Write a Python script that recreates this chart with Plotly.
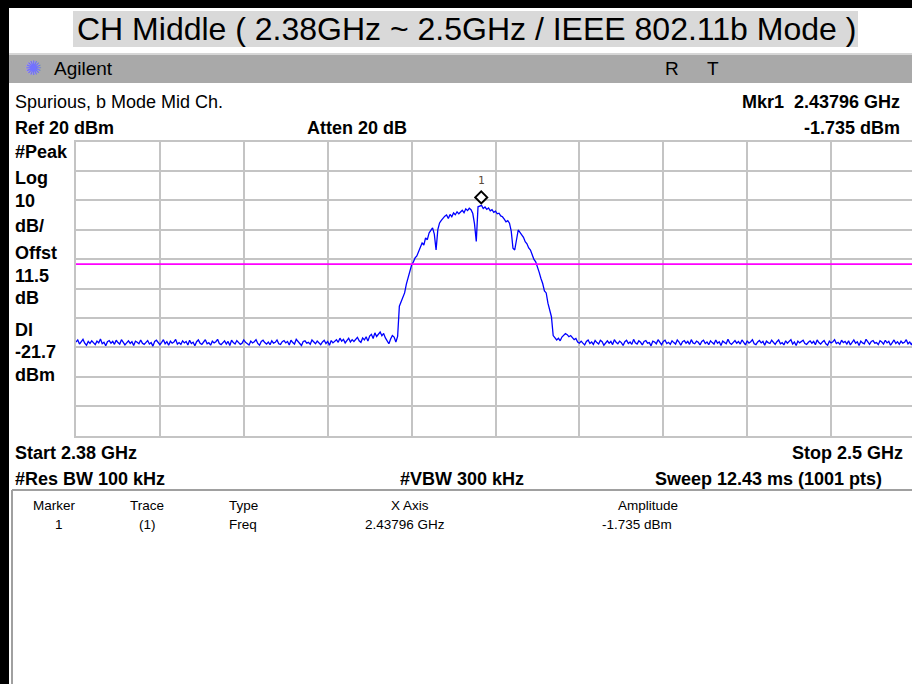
import numpy as np
import plotly.graph_objects as go

# ---------------- data ----------------
START_GHZ = 2.38
STOP_GHZ = 2.5
DISPLAY_LINE_DBM = -21.7
REF_LEVEL_DBM = 20
DB_PER_DIV = 10
MARKER_FREQ_GHZ = 2.43796
MARKER_AMP_DBM = -1.735

# trace amplitude (dBm), read every 0.25 MHz from 2.380 GHz to 2.500 GHz
noise_low = [
    -48.2, -47.5, -48.9, -48.1, -47.3, -48.6, -49.3, -48.0, -48.7, -47.8,
    -48.4, -49.1, -47.9, -48.5, -47.2, -48.8, -48.3, -49.5, -48.1, -47.7,
    -48.6, -48.0, -49.0, -47.6, -48.4, -48.9, -47.4, -48.2, -49.2, -48.5,
    -47.8, -48.7, -48.1, -49.4, -47.9, -48.3, -48.8, -47.5, -48.6, -49.0,
    -48.2, -47.7, -48.9, -48.4, -49.6, -48.0, -47.6, -48.5, -49.1, -48.3,
    -47.4, -48.8, -48.1, -49.3, -47.9, -48.6, -48.2, -47.3, -48.9, -48.4,
    -49.0, -47.8, -48.5, -48.0, -49.2, -47.6, -48.7, -48.3, -49.5, -48.1,
    -47.5, -48.6, -49.0, -48.2, -47.4, -48.8, -48.4, -49.3, -47.9, -48.5,
    -48.1, -47.3, -48.7, -49.1, -48.3, -47.8, -48.9, -48.0, -49.4, -47.6,
    -48.4, -48.9, -47.7, -48.2, -49.0, -48.6, -47.5, -48.3, -48.8, -49.2,
    -47.9, -48.5, -48.1, -47.4, -48.7, -49.3, -48.0, -47.6, -48.4, -48.9,
    -48.2, -49.1, -47.8, -48.6, -48.3, -47.5, -48.8, -49.0, -48.1, -47.7,
    -48.5, -48.0, -49.2, -47.6, -48.4, -48.9, -47.3, -48.2, -48.7, -49.4,
    -48.0, -47.8, -48.6, -48.3, -49.0, -47.5, -48.1, -48.8, -47.9, -48.4,
    -49.1, -48.2, -47.6, -48.7, -48.0, -49.3, -47.7, -48.5, -48.1, -47.4,
    -48.3, -46.9,
]
pre_signal = [
    -47.9, -47.3, -48.5, -47.6, -46.9, -48.2, -47.4, -48.0, -47.1, -46.6,
    -47.8, -48.3, -46.8, -47.5, -46.4, -47.9, -46.2, -45.6, -47.0, -45.1,
    -46.3, -45.4, -44.8, -46.1, -45.3, -46.8, -48.1, -48.8, -47.2, -46.0,
    -46.5, -48.2, -46.3,
]
signal = [
    -36.0, -34.5, -33.0, -31.5, -28.5, -26.4, -24.8, -22.0, -21.0, -19.6,
    -18.9, -17.6, -16.0, -14.5, -15.2, -12.8, -13.4, -11.1, -10.2, -9.4,
    -11.5, -16.9, -10.0, -7.7, -6.8, -6.0, -5.4, -5.0, -6.2, -4.8,
    -5.6, -4.3, -4.9, -3.9, -4.6, -4.0, -3.4, -4.2, -2.9, -3.5,
    -2.7, -3.2, -4.5, -8.0, -14.0, -2.2, -1.9, -1.735, -2.8, -2.3,
    -3.1, -2.6, -3.6, -3.2, -4.1, -3.7, -4.6, -4.4, -5.3, -5.6,
    -6.4, -7.3, -6.9, -7.8, -10.5, -16.3, -16.9, -13.0, -10.1, -10.9,
    -11.8, -12.6, -14.1, -14.8, -16.2, -16.9, -18.5, -20.1, -20.9, -23.2,
    -24.5, -26.6, -28.3, -30.8, -31.5, -35.0, -37.5, -39.6, -46.0, -46.8,
    -47.5, -46.9, -47.8, -46.5, -45.8, -45.3, -45.7, -46.4, -46.0, -46.9,
    -47.4, -47.0, -48.2, -48.6,
]
noise_high = [
    -47.9, -48.6, -49.2, -48.0, -47.5, -48.7, -48.2, -49.0, -47.7, -48.4,
    -48.9, -47.6, -48.1, -49.3, -48.5, -47.8, -48.6, -48.0, -49.1, -47.4,
    -48.3, -48.8, -47.9, -48.4, -49.4, -48.1, -47.6, -48.7, -48.2, -49.0,
    -47.3, -48.5, -48.9, -47.8, -48.3, -49.2, -48.0, -47.7, -48.6, -48.4,
    -49.5, -47.9, -48.2, -48.8, -47.4, -48.5, -49.1, -48.0, -47.6, -48.7,
    -48.3, -49.0, -47.8, -48.4, -48.9, -47.5, -48.2, -49.3, -48.1, -47.7,
    -48.6, -48.0, -49.0, -47.4, -48.5, -48.8, -47.9, -48.3, -49.2, -48.0,
    -47.6, -48.7, -48.2, -49.1, -47.8, -48.4, -48.9, -47.5, -48.6, -48.1,
    -49.4, -47.9, -48.3, -48.8, -47.3, -48.5, -49.0, -48.2, -47.7, -48.6,
    -48.0, -48.9, -47.5, -48.3, -49.2, -47.8, -48.6, -48.1, -47.4, -48.8,
    -49.1, -48.2, -47.7, -48.5, -48.0, -49.3, -47.9, -48.4, -48.7, -47.6,
    -48.3, -49.0, -48.1, -47.5, -48.8, -48.4, -49.2, -47.8, -48.6, -48.0,
    -47.4, -48.9, -48.2, -49.4, -47.9, -48.5, -48.1, -47.6, -48.7, -49.0,
    -48.3, -47.8, -48.6, -48.0, -49.1, -47.5, -48.4, -48.9, -48.2, -47.7,
    -48.8, -49.3, -47.9, -48.5, -48.1, -47.4, -48.7, -48.3, -49.0, -47.6,
    -48.4, -48.0, -48.9, -47.8, -49.2, -48.2, -47.5, -48.6, -48.1, -49.4,
    -47.9, -48.5, -48.8, -47.3, -48.3, -49.0, -48.0, -47.7, -48.6, -48.4,
    -49.1, -47.8, -48.2, -48.9, -47.6, -48.5, -48.0, -49.3, -48.4, -47.5,
    -48.7, -48.1, -49.0, -47.9, -48.6, -48.3, -47.4, -48.8, -48.2, -49.2,
    -47.8, -48.5,
]
amps = noise_low + pre_signal + signal + noise_high
freqs = np.linspace(START_GHZ, STOP_GHZ, len(amps))

left_labels = ["#Peak", "Log", "10", "dB/", "Offst", "11.5", "dB", "Dl", "-21.7", "dBm"]
table_headers = ["Marker", "Trace", "Type", "X Axis", "Amplitude"]
table_row = ["1", "(1)", "Freq", "2.43796 GHz", "-1.735 dBm"]

# ---------------- layout helpers ----------------
W, H = 912, 684
def X(px):
    return px / W
def Y(py):
    return 1 - py / H

PLOT_L, PLOT_T, PLOT_B = 76, 141.5, 435.5
DIV_PX = 83.9
x_end = START_GHZ + (STOP_GHZ - START_GHZ) * (W - PLOT_L) / (10 * DIV_PX)

FONT = "Liberation Sans, Arial, sans-serif"

fig = go.Figure()
fig.add_trace(go.Scatter(x=freqs, y=amps, mode="lines",
                         line=dict(color="#0000ff", width=1.3),
                         hoverinfo="skip", showlegend=False))

shapes = []
# frame pieces (black border on top and left)
shapes.append(dict(type="line", xref="paper", yref="paper", x0=0, x1=1, y0=Y(4), y1=Y(4),
                   line=dict(color="black", width=8), layer="above"))
shapes.append(dict(type="line", xref="paper", yref="paper", x0=X(4.5), x1=X(4.5), y0=0, y1=1,
                   line=dict(color="black", width=9), layer="above"))
# title highlight
shapes.append(dict(type="rect", xref="paper", yref="paper", x0=X(73), x1=X(858), y0=Y(47), y1=Y(11),
                   fillcolor="#d9d9d9", line=dict(width=0), layer="below"))
# agilent bar
shapes.append(dict(type="rect", xref="paper", yref="paper", x0=X(9), x1=1, y0=Y(83), y1=Y(53),
                   fillcolor="#a9a9a9", line=dict(width=0), layer="below"))
shapes.append(dict(type="line", xref="paper", yref="paper", x0=X(9), x1=1, y0=Y(54), y1=Y(54),
                   line=dict(color="#d6d6d6", width=2)))
# marker table box
shapes.append(dict(type="line", xref="paper", yref="paper", x0=X(12), x1=1, y0=Y(490), y1=Y(490),
                   line=dict(color="#a0a0a0", width=2)))
shapes.append(dict(type="line", xref="paper", yref="paper", x0=X(12), x1=X(12), y0=0, y1=Y(490),
                   line=dict(color="#a0a0a0", width=2)))
# display line
shapes.append(dict(type="line", xref="paper", yref="y", x0=X(PLOT_L), x1=1,
                   y0=DISPLAY_LINE_DBM, y1=DISPLAY_LINE_DBM,
                   line=dict(color="#ff00ff", width=1.6)))
# marker diamond (pixel sized, drawn above the point)
shapes.append(dict(type="path", xref="x", yref="y", xsizemode="pixel", ysizemode="pixel",
                   xanchor=MARKER_FREQ_GHZ, yanchor=MARKER_AMP_DBM,
                   path="M -6 8 L 0 14 L 6 8 L 0 2 Z",
                   fillcolor="white", line=dict(color="black", width=2)))

ann = []
def text(px, py, s, size=18, bold=False, anchor="left", color="black", family=FONT):
    ann.append(dict(xref="paper", yref="paper", x=X(px), y=Y(py), text=("<b>%s</b>" % s) if bold else s,
                    showarrow=False, xanchor=anchor, yanchor="middle",
                    font=dict(size=size, color=color, family=family)))

text(466, 29, "CH Middle ( 2.38GHz ~ 2.5GHz / IEEE 802.11b Mode )", size=32, anchor="center")
text(33, 68, "✺", size=20, anchor="center", color="#7272ff", family="DejaVu Sans")
text(52, 69, "Agilent", size=19)
text(672, 69, "R", size=19, anchor="center")
text(713, 69, "T", size=19, anchor="center")
text(13, 102, "Spurious, b Mode Mid Ch.", size=18)
text(902, 102, "Mkr1  2.43796 GHz", size=18, bold=True, anchor="right")
text(13, 128, "Ref 20 dBm", size=18, bold=True)
text(305, 128, "Atten 20 dB", size=18, bold=True)
text(902, 128, "-1.735 dBm", size=18, bold=True, anchor="right")

left_y = [152, 178, 201, 226, 253, 276, 298, 330, 352, 375]
for s, yy in zip(left_labels, left_y):
    text(13, yy, s, size=18, bold=True)

text(905, 453, "Stop 2.5 GHz", size=18, bold=True, anchor="right")
text(13, 453, "Start 2.38 GHz", size=18, bold=True)
text(13, 479, "#Res BW 100 kHz", size=18, bold=True)
text(462, 479, "#VBW 300 kHz", size=18, bold=True, anchor="center")
text(884, 479, "Sweep 12.43 ms (1001 pts)", size=18, bold=True, anchor="right")

col_x = [54, 147, 227, 410, 648]
col_anchor = ["center", "center", "left", "center", "center"]
row_x = [59, 147, 227, 405, 637]
for s, xx, a in zip(table_headers, col_x, col_anchor):
    text(xx, 505, s, size=13.5, anchor=a)
for s, xx, a in zip(table_row, row_x, col_anchor):
    text(xx, 524, s, size=13.5, anchor=a)

# marker number
ann.append(dict(xref="x", yref="y", x=MARKER_FREQ_GHZ, y=MARKER_AMP_DBM, yshift=25,
                text="1", showarrow=False, xanchor="center", yanchor="middle",
                font=dict(size=11, color="#5a4a3a", family="DejaVu Sans Mono")))

fig.update_layout(
    width=W, height=H, margin=dict(l=0, r=0, t=0, b=0),
    paper_bgcolor="white", plot_bgcolor="white",
    shapes=shapes, annotations=ann, showlegend=False,
    xaxis=dict(domain=[X(PLOT_L), 1], range=[START_GHZ, x_end], tick0=START_GHZ, dtick=0.012,
               showticklabels=False, ticks="", showgrid=True, gridcolor="#c4c4c4", gridwidth=2,
               zeroline=False, showline=True, linecolor="#c4c4c4", linewidth=2, mirror=True),
    yaxis=dict(domain=[Y(PLOT_B), Y(PLOT_T)], range=[REF_LEVEL_DBM - 10 * DB_PER_DIV, REF_LEVEL_DBM],
               tick0=REF_LEVEL_DBM, dtick=DB_PER_DIV,
               showticklabels=False, ticks="", showgrid=True, gridcolor="#c4c4c4", gridwidth=2,
               zeroline=False, showline=True, linecolor="#c4c4c4", linewidth=2, mirror=False),
)

fig.write_html("out.html", config={"displayModeBar": False},
               post_script="document.body.style.margin='0';document.body.style.overflow='hidden';")
